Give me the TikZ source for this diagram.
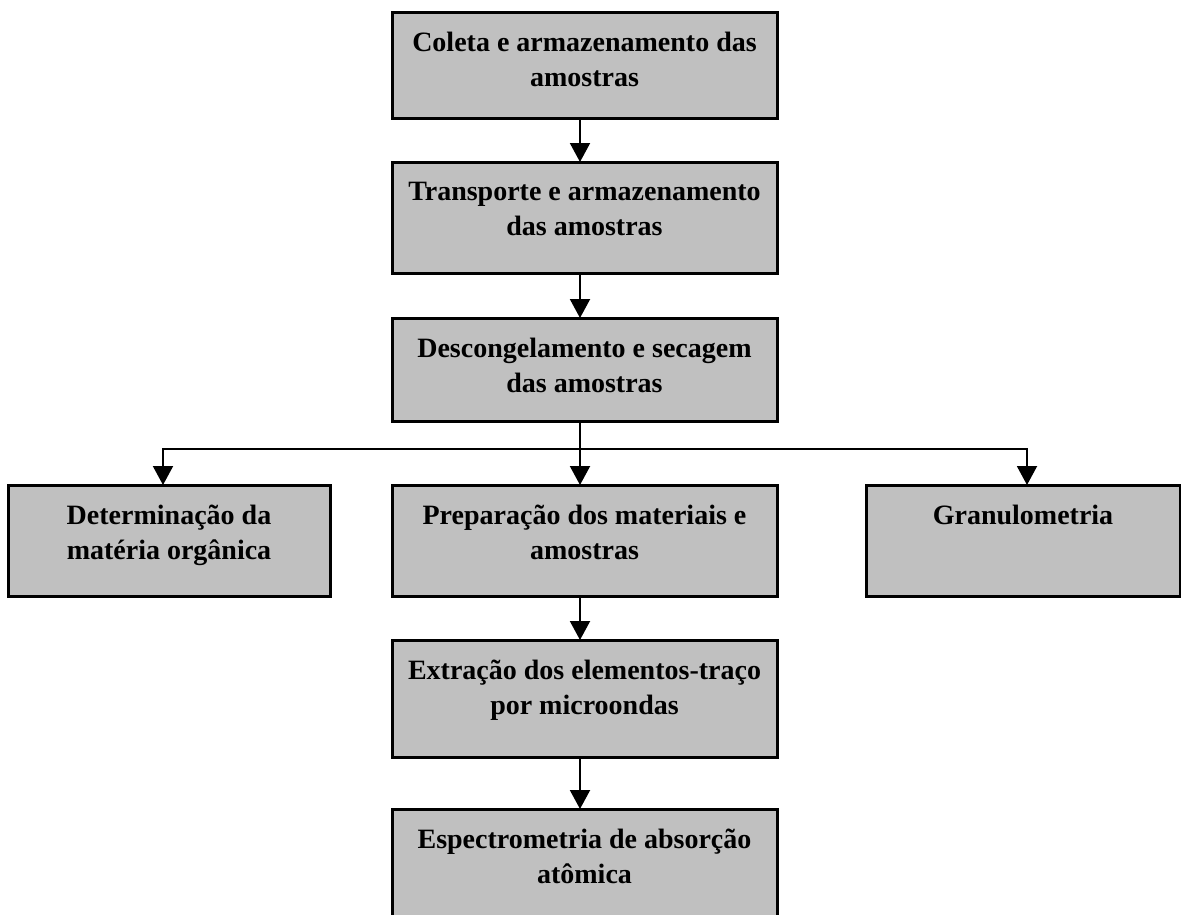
\documentclass[tikz,border=0pt]{standalone}
\usepackage{fontspec}
\setmainfont{Liberation Serif}
\usetikzlibrary{arrows.meta}
\definecolor{boxgray}{HTML}{C0C0C0}
\begin{document}
\begin{tikzpicture}[x=1pt,y=-1pt,
  box/.style={draw=black, line width=3pt, fill=boxgray, inner sep=0pt, outer sep=0pt},
  lbl/.style={anchor=north, align=center, inner sep=0pt, font=\fontsize{28}{35}\selectfont\bfseries, yshift=-20pt},
  conn/.style={line width=2pt, -{Triangle[width=20pt,length=19pt]}},
  plain/.style={line width=2pt}]
\useasboundingbox (0,0) rectangle (1181,914);
\begin{scope}
\clip (0,0) rectangle (1181,914);
% boxes
\node[box, minimum width=385pt, minimum height=106pt] (b1) at (584.5,65) {};
\node[box, minimum width=385pt, minimum height=111pt] (b2) at (584.5,217.5) {};
\node[box, minimum width=385pt, minimum height=103pt] (b3) at (584.5,369.5) {};
\node[box, minimum width=322pt, minimum height=111pt] (bl) at (169,540.5) {};
\node[box, minimum width=385pt, minimum height=111pt] (bm) at (584.5,540.5) {};
\node[box, minimum width=314pt, minimum height=111pt] (br) at (1023,540.5) {};
\node[box, minimum width=385pt, minimum height=117pt] (b5) at (584.5,698.5) {};
\node[box, minimum width=385pt, minimum height=124pt] (b6) at (584.5,871) {};
\end{scope}
% labels
\node[lbl] (t1) at (b1.north) {Coleta e armazenamento das\\amostras};
\node[lbl] (t2) at (b2.north) {Transporte e armazenamento\\das amostras};
\node[lbl] (t3) at (b3.north) {Descongelamento e secagem\\das amostras};
\node[lbl] (tl) at (bl.north) {Determinação da\\matéria orgânica};
\node[lbl] (tm) at (bm.north) {Preparação dos materiais e\\amostras};
\node[lbl] (tr) at (br.north) {Granulometria};
\node[lbl] (t5) at (b5.north) {Extração dos elementos-traço\\por microondas};
\node[lbl] (t6) at (b6.north) {Espectrometria de absorção\\atômica};
% connectors
\draw[conn] ([xshift=-4.5pt]b1.south) -- ([xshift=-4.5pt]b2.north);
\draw[conn] ([xshift=-4.5pt]b2.south) -- ([xshift=-4.5pt]b3.north);
\coordinate (j) at ([xshift=-4.5pt,yshift=-28pt]b3.south);
\draw[plain] ([xshift=-4.5pt]b3.south) -- (j);
\draw[conn] (j) -| ([xshift=-6pt]bl.north);
\draw[conn] (j) -- ([xshift=-4.5pt]bm.north);
\draw[conn] (j) -| ([xshift=4pt]br.north);
\draw[conn] ([xshift=-4.5pt]bm.south) -- ([xshift=-4.5pt]b5.north);
\draw[conn] ([xshift=-4.5pt]b5.south) -- ([xshift=-4.5pt]b6.north);
\end{tikzpicture}
\end{document}
